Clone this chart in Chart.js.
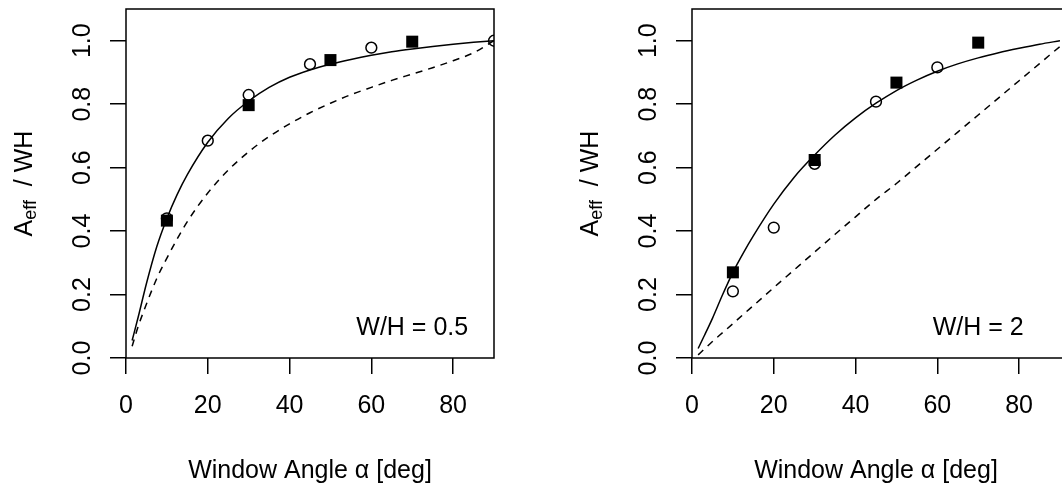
<!DOCTYPE html>
<html>
<head>
<meta charset="utf-8">
<script src="https://cdn.jsdelivr.net/npm/chart.js@4.4.0/dist/chart.umd.min.js"></script>
<style>
  html, body { margin: 0; padding: 0; background: #fff; overflow: hidden; width: 1062px; height: 487px; }
  .panel { position: absolute; top: 0; width: 531px; height: 487px; }
  #panel-a { left: 0; }
  #panel-b { left: 566px; }
</style>
</head>
<body>
<div class="panel" id="panel-a"><canvas id="chart-a" width="531" height="487"></canvas></div>
<div class="panel" id="panel-b"><canvas id="chart-b" width="531" height="487"></canvas></div>
<script>
'use strict';

const curveAngles = [1.5, 3, 5, 7.5, 10, 12.5, 15, 20, 25, 30, 35, 40, 45, 50, 55, 60, 65, 70, 75, 80, 85, 90];

// W/H = 0.5
const solidA  = [0.055, 0.13, 0.235, 0.35, 0.44, 0.515, 0.578, 0.68, 0.755, 0.81, 0.853, 0.885, 0.908, 0.926, 0.941, 0.954, 0.965, 0.974, 0.982, 0.989, 0.995, 1.0];
const dashedA = [0.037, 0.1, 0.17, 0.25, 0.315, 0.375, 0.43, 0.52, 0.592, 0.65, 0.698, 0.738, 0.773, 0.803, 0.83, 0.853, 0.875, 0.895, 0.915, 0.937, 0.962, 1.0];
const circleAngleA = [10, 20, 30, 45, 60, 90];
const circleA      = [0.44, 0.685, 0.829, 0.926, 0.978, 1.0];
const squareAngleA = [10, 30, 50, 70];
const squareA      = [0.433, 0.797, 0.939, 0.997];

// W/H = 2
const solidB  = [0.03, 0.07, 0.125, 0.2, 0.27, 0.33, 0.385, 0.485, 0.57, 0.64, 0.703, 0.757, 0.803, 0.843, 0.876, 0.904, 0.927, 0.946, 0.962, 0.976, 0.989, 1.0];
const dashedB = [0.01, 0.028, 0.052, 0.08, 0.108, 0.137, 0.165, 0.222, 0.278, 0.334, 0.39, 0.445, 0.5, 0.55, 0.604, 0.658, 0.712, 0.766, 0.82, 0.874, 0.928, 0.982];
const circleAngleB = [10, 20, 30, 45, 60];
const circleB      = [0.21, 0.411, 0.612, 0.808, 0.916];
const squareAngleB = [10, 30, 50, 70];
const squareB      = [0.27, 0.624, 0.868, 0.994];

const xTicks = [0, 20, 40, 60, 80];
const yTicks = [0, 0.2, 0.4, 0.6, 0.8, 1.0];
const xTitle = 'Window Angle \u03b1 [deg]';
const labelA = 'W/H = 0.5';
const labelB = 'W/H = 2';

const FONT = "'Liberation Sans', Arial, sans-serif";

function pts(xs, ys) {
  return xs.map((x, i) => ({ x: x, y: ys[i] }));
}

// R-like frame, tick labels and titles
const rFrame = {
  id: 'rFrame',
  afterDraw(chart, args, opts) {
    const ctx = chart.ctx;
    const a = chart.chartArea;
    const xs = chart.scales.x;
    const ys = chart.scales.y;
    ctx.save();
    ctx.strokeStyle = '#000';
    ctx.lineWidth = 1.5;
    ctx.beginPath();
    if (opts.openRight) {
      ctx.moveTo(a.right + 4, a.top);
      ctx.lineTo(a.left, a.top);
      ctx.lineTo(a.left, a.bottom);
      ctx.lineTo(a.right + 4, a.bottom);
    } else {
      ctx.rect(a.left, a.top, a.right - a.left, a.bottom - a.top);
    }
    ctx.stroke();

    ctx.fillStyle = '#000';
    ctx.font = '25px ' + FONT;
    ctx.textAlign = 'center';
    ctx.textBaseline = 'alphabetic';

    xs.ticks.forEach((t) => {
      ctx.fillText(String(t.value), xs.getPixelForValue(t.value), 413);
    });
    ys.ticks.forEach((t) => {
      ctx.save();
      ctx.translate(a.left - 36, ys.getPixelForValue(t.value));
      ctx.rotate(-Math.PI / 2);
      ctx.fillText(t.value.toFixed(1), 0, 0);
      ctx.restore();
    });

    ctx.fillText(xTitle, (xs.getPixelForValue(0) + xs.getPixelForValue(90)) / 2, 478);

    // y title: A_eff / WH
    ctx.save();
    ctx.translate(a.left - 94, (a.top + a.bottom) / 2);
    ctx.rotate(-Math.PI / 2);
    ctx.textAlign = 'left';
    ctx.font = '25px ' + FONT;
    const wA = ctx.measureText('A').width;
    const wRest = ctx.measureText('  / WH').width;
    ctx.font = '18px ' + FONT;
    const wSub = ctx.measureText('eff').width;
    let px = -(wA + wSub + wRest) / 2;
    ctx.font = '25px ' + FONT;
    ctx.fillText('A', px, 0);
    px += wA;
    ctx.font = '18px ' + FONT;
    ctx.fillText('eff', px, 4);
    px += wSub;
    ctx.font = '25px ' + FONT;
    ctx.fillText('  / WH', px, 0);
    ctx.restore();

    ctx.textAlign = 'center';
    ctx.fillText(opts.label, xs.getPixelForValue(70), ys.getPixelForValue(0.1) + 9);
    ctx.restore();
  }
};

function makeChart(id, solid, dashed, cx, cy, sx, sy, label, openRight) {
  return new Chart(document.getElementById(id), {
    type: 'scatter',
    data: {
      datasets: [
        {
          data: pts(sx, sy), pointStyle: 'rect', pointRadius: 8.5, pointHoverRadius: 8.5,
          backgroundColor: '#000', borderColor: '#000', borderWidth: 0
        },
        {
          data: pts(cx, cy), pointStyle: 'circle', pointRadius: 5.4, pointHoverRadius: 5.4,
          backgroundColor: 'rgba(0,0,0,0)', borderColor: '#000', borderWidth: 1.5
        },
        {
          data: pts(curveAngles, solid), showLine: true, pointRadius: 0,
          borderColor: '#000', borderWidth: 1.5, cubicInterpolationMode: 'monotone'
        },
        {
          data: pts(curveAngles, dashed), showLine: true, pointRadius: 0,
          borderColor: '#000', borderWidth: 1.5, borderDash: [7, 6], cubicInterpolationMode: 'monotone'
        }
      ]
    },
    options: {
      responsive: false,
      animation: false,
      events: [],
      layout: { padding: { top: 9, right: 37, left: 0, bottom: 0 } },
      plugins: {
        legend: { display: false },
        tooltip: { enabled: false },
        rFrame: { label: label, openRight: openRight }
      },
      scales: {
        x: {
          type: 'linear', min: 0, max: 90,
          afterBuildTicks: (s) => { s.ticks = xTicks.map((v) => ({ value: v })); },
          afterFit: (s) => { s.height = 129; },
          ticks: { display: false },
          border: { display: false },
          grid: { drawOnChartArea: false, drawTicks: true, tickLength: 16, color: '#000', lineWidth: 1.5 }
        },
        y: {
          type: 'linear', min: 0, max: 1.1,
          afterBuildTicks: (s) => { s.ticks = yTicks.map((v) => ({ value: v })); },
          afterFit: (s) => { s.width = 126; },
          ticks: { display: false },
          border: { display: false },
          grid: { drawOnChartArea: false, drawTicks: true, tickLength: 16, color: '#000', lineWidth: 1.5 }
        }
      }
    },
    plugins: [rFrame]
  });
}

makeChart('chart-a', solidA, dashedA, circleAngleA, circleA, squareAngleA, squareA, labelA, false);
makeChart('chart-b', solidB, dashedB, circleAngleB, circleB, squareAngleB, squareB, labelB, true);
</script>
</body>
</html>
